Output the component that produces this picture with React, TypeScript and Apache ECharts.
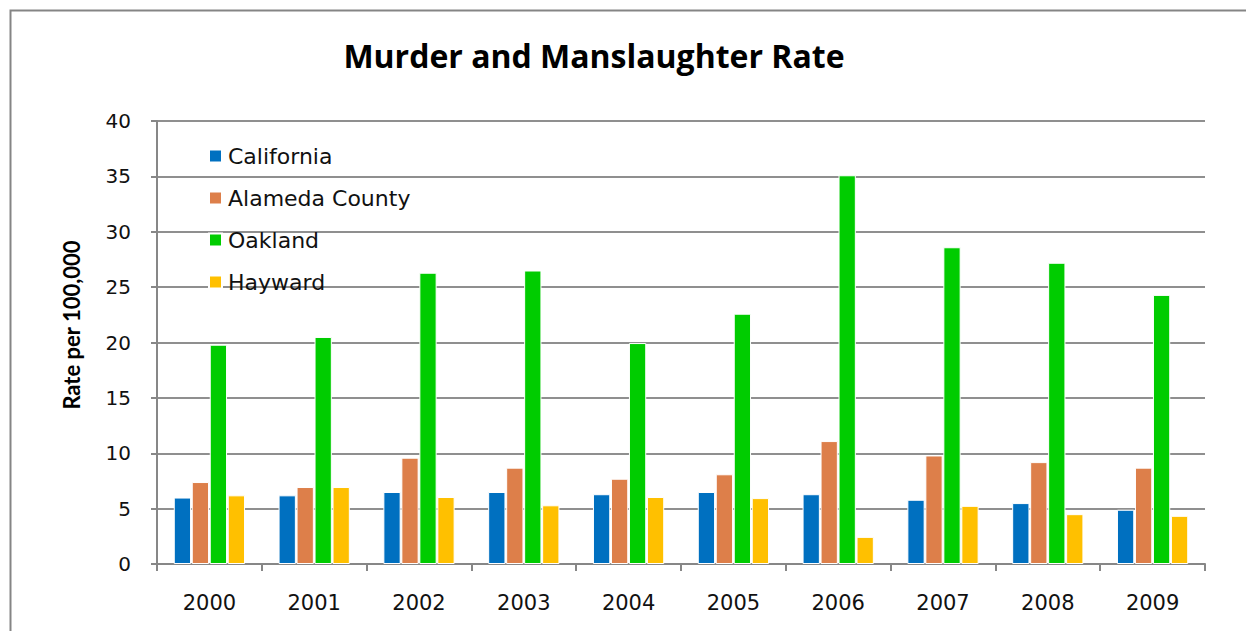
import React, { useEffect, useRef } from "react";
import * as echarts from "echarts";

const years = ["2000", "2001", "2002", "2003", "2004", "2005", "2006", "2007", "2008", "2009"];
const california = [6.0, 6.2, 6.5, 6.5, 6.3, 6.5, 6.3, 5.8, 5.5, 4.9];
const alameda = [7.4, 6.95, 9.6, 8.7, 7.7, 8.1, 11.1, 9.8, 9.2, 8.7];
const oakland = [19.8, 20.5, 26.3, 26.5, 19.95, 22.6, 35.1, 28.6, 27.2, 24.3];
const hayward = [6.2, 6.95, 6.05, 5.3, 6.05, 5.95, 2.45, 5.25, 4.5, 4.35];

const seriesNames = ["California", "Alameda County", "Oakland", "Hayward"];
const seriesColors = ["#0070C0", "#DD7F4A", "#00CC00", "#FFC000"];
const seriesData = [california, alameda, oakland, hayward];
const yAxisTitle = "Rate per 100,000";

export default function App() {
  const ref = useRef<HTMLDivElement>(null);
  useEffect(() => {
    if (!ref.current) return;
    const chart = echarts.init(ref.current, null, { renderer: "svg" });
    chart.setOption({
      animation: false,
      backgroundColor: "#ffffff",
      title: {
        text: "Murder and Manslaughter Rate",
        left: 589,
        textAlign: "center",
        top: 34,
        textStyle: { fontFamily: "Open Sans", fontWeight: "bold", fontSize: 32, color: "#000" },
      },
      graphic: [
        {
          type: "rect",
          left: 8,
          top: 8,
          shape: { width: 1300, height: 700 },
          style: { fill: "none", stroke: "#858585", lineWidth: 2 },
          z: -10,
          silent: true,
        },
        {
          type: "text",
          x: 71,
          y: 325,
          rotation: Math.PI / 2,
          style: {
            text: yAxisTitle,
            fontFamily: "Lato",
            fontWeight: "bold",
            fontSize: 22,
            fill: "#000",
            textAlign: "center",
            textVerticalAlign: "middle",
          },
        },
      ],
      legend: {
        orient: "vertical",
        left: 203,
        top: 140,
        icon: "rect",
        itemWidth: 13,
        itemHeight: 13,
        itemGap: 20,
        data: seriesNames,
        textStyle: {
          fontFamily: "DejaVu Sans",
          fontSize: 22,
          lineHeight: 22,
          color: "#111",
          padding: [0, 0, 0, 1],
        },
      },
      grid: { left: 157, right: 41, top: 121, bottom: 67, containLabel: false },
      xAxis: {
        type: "category",
        data: years,
        axisLine: { lineStyle: { color: "#878787", width: 2 } },
        axisTick: { show: true, length: 7, lineStyle: { color: "#878787", width: 2 } },
        axisLabel: { fontFamily: "DejaVu Sans", fontSize: 21, color: "#111", margin: 28 },
        splitLine: { show: false },
      },
      yAxis: {
        type: "value",
        min: 0,
        max: 40,
        interval: 5,
        axisLine: { show: true, lineStyle: { color: "#878787", width: 2 } },
        axisTick: { show: true, length: 6, lineStyle: { color: "#878787", width: 2 } },
        axisLabel: { fontFamily: "DejaVu Sans", fontSize: 20, color: "#111", margin: 26 },
        splitLine: { lineStyle: { color: "#8f8f8f", width: 2 } },
      },
      series: seriesNames.map((name, i) => ({
        name,
        type: "bar",
        data: seriesData[i],
        barGap: "4%",
        barCategoryGap: "32%",
        itemStyle: { color: seriesColors[i], borderColor: "#ffffff", borderWidth: 1 },
      })),
    });
    return () => chart.dispose();
  }, []);
  return (
    <div
      ref={ref}
      style={{ position: "absolute", left: 0, top: 0, width: 1246, height: 631 }}
    />
  );
}
